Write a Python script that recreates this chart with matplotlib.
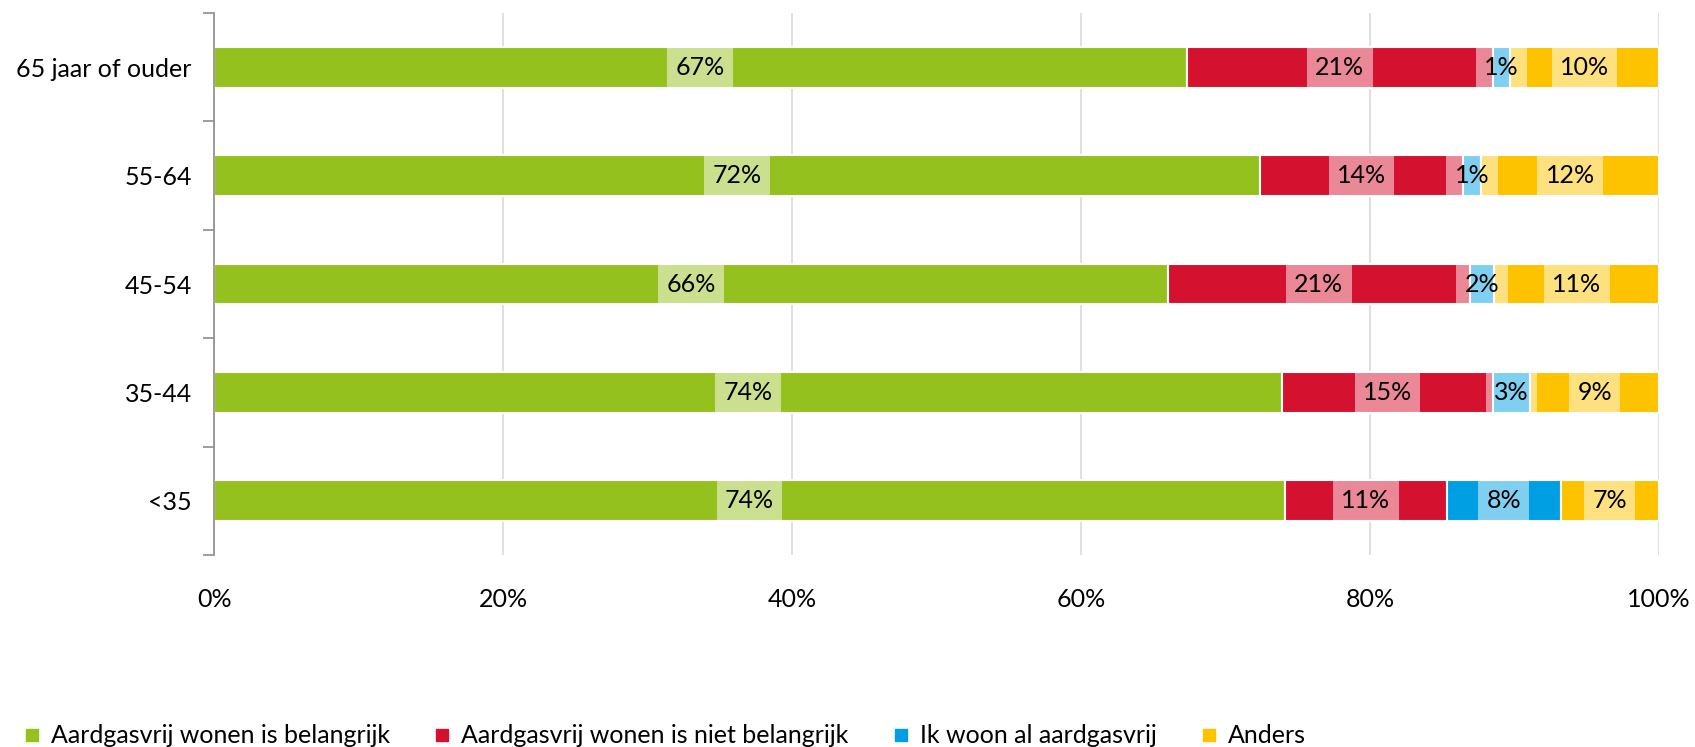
import numpy as np
import matplotlib.pyplot as plt
from matplotlib.lines import Line2D

plt.rcParams['font.family'] = ['Lato', 'DejaVu Sans']

# Age groups, top to bottom
categories = ['65 jaar of ouder', '55-64', '45-54', '35-44', '<35']
series_names = ['Aardgasvrij wonen is belangrijk',
                'Aardgasvrij wonen is niet belangrijk',
                'Ik woon al aardgasvrij',
                'Anders']
belangrijk = [67.3, 72.4, 66.0, 73.9, 74.1]
niet_belangrijk = [21.2, 14.0, 20.9, 14.6, 11.2]
al_aardgasvrij = [1.2, 1.3, 1.7, 2.6, 7.9]
anders = [10.3, 12.3, 11.4, 8.9, 6.8]
colors = ['#95C11F', '#D51130', '#009FE3', '#FDC300']

series = [belangrijk, niet_belangrijk, al_aardgasvrij, anders]

fig = plt.figure(figsize=(16.95, 7.47), dpi=100)
ax = fig.add_axes([0.1263, 0.257, 0.8525, 0.7256])

y = np.arange(len(categories))
left = np.zeros(len(categories))
for vals, col in zip(series, colors):
    vals = np.array(vals)
    ax.barh(y, vals, left=left, height=0.375, color=col,
            edgecolor='white', linewidth=1.5, zorder=2)
    for yi, v, l in zip(y, vals, left):
        ax.text(l + v / 2, yi, f"{v:.0f}%", ha='center', va='center',
                fontsize=18, color='black', zorder=4,
                bbox=dict(boxstyle='square,pad=0.33', facecolor='white',
                          alpha=0.5, edgecolor='none'))
    left += vals

ax.set_xlim(0, 100)
ax.set_ylim(len(categories) - 0.5, -0.5)
ax.set_xticks(np.arange(0, 101, 20))
ax.set_xticklabels([f"{t}%" for t in range(0, 101, 20)], fontsize=18)
ax.set_yticks(y)
ax.set_yticklabels(categories, fontsize=18)
ax.set_yticks(np.arange(-0.5, len(categories)), minor=True)
ax.tick_params(axis='y', which='major', length=0, pad=16)
ax.tick_params(axis='y', which='minor', length=8, color='#8C8C8C', width=1.2)
ax.tick_params(axis='x', length=0, pad=24)

ax.xaxis.grid(True, color='#D9D9D9', linewidth=1.2, zorder=0)
ax.set_axisbelow(True)
for s in ['top', 'right', 'bottom']:
    ax.spines[s].set_visible(False)
ax.spines['left'].set_color('#8C8C8C')
ax.spines['left'].set_linewidth(1.2)

handles = [Line2D([0], [0], marker='s', linestyle='none', markersize=9,
                  markerfacecolor=c, markeredgecolor=c) for c in colors]
fig.legend(handles, series_names, loc='lower left', ncol=4,
           bbox_to_anchor=(0.004, -0.024), frameon=False, fontsize=18,
           borderaxespad=0.3, handlelength=0.6, handletextpad=0.45,
           columnspacing=1.8)

fig.savefig('out.png', dpi=100)
